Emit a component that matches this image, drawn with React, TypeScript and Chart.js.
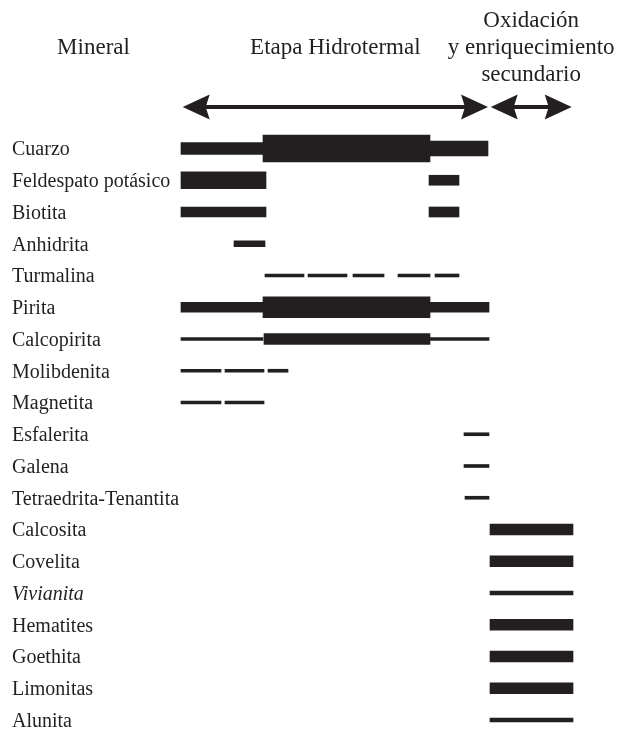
import React, { useEffect, useRef } from 'react';
import { Chart, registerables } from 'chart.js';

Chart.register(...registerables);

// ---- Data ----
const minerals = [
  'Cuarzo',
  'Feldespato potásico',
  'Biotita',
  'Anhidrita',
  'Turmalina',
  'Pirita',
  'Calcopirita',
  'Molibdenita',
  'Magnetita',
  'Esfalerita',
  'Galena',
  'Tetraedrita-Tenantita',
  'Calcosita',
  'Covelita',
  'Vivianita',
  'Hematites',
  'Goethita',
  'Limonitas',
  'Alunita',
];
const italicMinerals = ['Vivianita'];

const columnTitle = 'Mineral';
const stageLabels = [['Etapa Hidrotermal'], ['Oxidación', 'y enriquecimiento', 'secundario']];
const stageStart = [1.7, 309.7];
const stageEnd = [307, 390.7];

// relative time axis (0 = start of hydrothermal stage)
const timeMin = 0;
const timeMax = 392;

// [mineral, start, end, abundance level]
const hydrothermalPeriods: [string, number, number, number][] = [
  ['Cuarzo', 0, 82, 6],
  ['Cuarzo', 82, 249, 10],
  ['Cuarzo', 249, 307, 7],
  ['Feldespato potásico', 0, 85, 8],
  ['Feldespato potásico', 248, 278, 4],
  ['Biotita', 0, 85, 4],
  ['Biotita', 248, 278, 4],
  ['Anhidrita', 53, 84, 3],
  ['Turmalina', 84, 123, 1],
  ['Turmalina', 127, 166, 1],
  ['Turmalina', 172, 203, 1],
  ['Turmalina', 217, 249, 1],
  ['Turmalina', 254, 278, 1],
  ['Pirita', 0, 82, 4],
  ['Pirita', 82, 249, 9],
  ['Pirita', 249, 308, 4],
  ['Calcopirita', 0, 82, 1],
  ['Calcopirita', 83, 249, 5],
  ['Calcopirita', 249, 308, 1],
  ['Molibdenita', 0, 40, 1],
  ['Molibdenita', 44, 83, 1],
  ['Molibdenita', 87, 107, 1],
  ['Magnetita', 0, 40, 1],
  ['Magnetita', 44, 83, 1],
  ['Esfalerita', 283, 308, 1],
  ['Galena', 283, 308, 1],
  ['Tetraedrita-Tenantita', 284, 308, 1],
];

const supergenePeriods: [string, number, number, number][] = [
  ['Calcosita', 309, 392, 5],
  ['Covelita', 309, 392, 5],
  ['Vivianita', 309, 392, 2],
  ['Hematites', 309, 392, 5],
  ['Goethita', 309, 392, 5],
  ['Limonitas', 309, 392, 5],
  ['Alunita', 309, 392, 2],
];

// ---- Styling ----
const INK = '#231f20';
const abundanceThickness = [0, 3, 4, 6, 10, 11, 12, 15, 17, 21, 27];

function drawHead(ctx: CanvasRenderingContext2D, tipX: number, y: number, dir: number) {
  const L = 27;
  const H = 12.5;
  const N = 4;
  ctx.beginPath();
  ctx.moveTo(tipX, y);
  ctx.lineTo(tipX + dir * L, y - H);
  ctx.lineTo(tipX + dir * (L - N), y);
  ctx.lineTo(tipX + dir * L, y + H);
  ctx.closePath();
  ctx.fill();
}

const headerPlugin = {
  id: 'paragenesisHeader',
  afterDraw(chart: any) {
    const ctx: CanvasRenderingContext2D = chart.ctx;
    const xs = chart.scales.x;
    const font = '23px "Liberation Serif", "Times New Roman", serif';
    ctx.save();
    ctx.fillStyle = INK;
    ctx.strokeStyle = INK;
    ctx.font = font;
    ctx.textAlign = 'center';
    ctx.textBaseline = 'alphabetic';
    const midBaseline = 53.5;
    const lineGap = 27;
    // column title centered over label column
    ctx.fillText(columnTitle, (chart.scales.y.left + chart.chartArea.left) / 2 - 3, midBaseline);

    const arrowY = 107;
    stageLabels.forEach((lines, i) => {
      const x0 = xs.getPixelForValue(stageStart[i]);
      const x1 = xs.getPixelForValue(stageEnd[i]);
      const widest = Math.max(...lines.map((l) => ctx.measureText(l).width));
      const cx = Math.min((x0 + x1) / 2, chart.width - widest / 2 - 4);
      lines.forEach((line, j) => {
        ctx.fillText(line, cx, midBaseline + (j - (lines.length - 1) / 2) * lineGap);
      });
      // arrow
      ctx.lineWidth = 4;
      ctx.beginPath();
      ctx.moveTo(x0 + 20, arrowY);
      ctx.lineTo(x1 - 20, arrowY);
      ctx.stroke();
      drawHead(ctx, x0, arrowY, 1);
      drawHead(ctx, x1, arrowY, -1);
    });
    ctx.restore();
  },
};

export default function App() {
  const ref = useRef<HTMLCanvasElement | null>(null);

  useEffect(() => {
    if (!ref.current) return;
    const all = [...hydrothermalPeriods, ...supergenePeriods];
    const levels = Array.from(new Set(all.map((p) => p[3]))).sort((a, b) => a - b);
    const datasets = levels.map((lvl) => ({
      label: 'abundancia ' + lvl,
      data: all.filter((p) => p[3] === lvl).map((p) => ({ y: p[0], x: [p[1], p[2]] })),
      backgroundColor: INK,
      borderWidth: 0,
      borderSkipped: false,
      barThickness: abundanceThickness[lvl],
      grouped: false,
      clip: false as any,
    }));

    const chart = new Chart(ref.current, {
      type: 'bar',
      data: { labels: minerals, datasets: datasets as any },
      options: {
        indexAxis: 'y',
        responsive: false,
        animation: false,
        events: [],
        layout: { padding: { left: 12, right: 46, top: 148.5, bottom: 12 } },
        plugins: { legend: { display: false }, tooltip: { enabled: false } },
        scales: {
          x: { type: 'linear', min: timeMin, max: timeMax, display: false },
          y: {
            type: 'category',
            offset: false,
            grid: { display: false },
            border: { display: false },
            afterFit: (scale: any) => {
              scale.width = 169;
            },
            ticks: {
              autoSkip: false,
              crossAlign: 'far',
              padding: 0,
              labelOffset: 1.5,
              color: INK,
              font: (ctx: any) => ({
                family: '"Liberation Serif", "Times New Roman", serif',
                size: 20,
                style: italicMinerals.includes(minerals[ctx.index]) ? 'italic' : 'normal',
              }),
            },
          },
        },
      } as any,
      plugins: [headerPlugin],
    });
    return () => chart.destroy();
  }, []);

  return (
    <div style={{ position: 'absolute', left: 0, top: 0, width: 619, height: 732, background: '#fff' }}>
      <canvas ref={ref} width={619} height={732} style={{ display: 'block' }} />
    </div>
  );
}
